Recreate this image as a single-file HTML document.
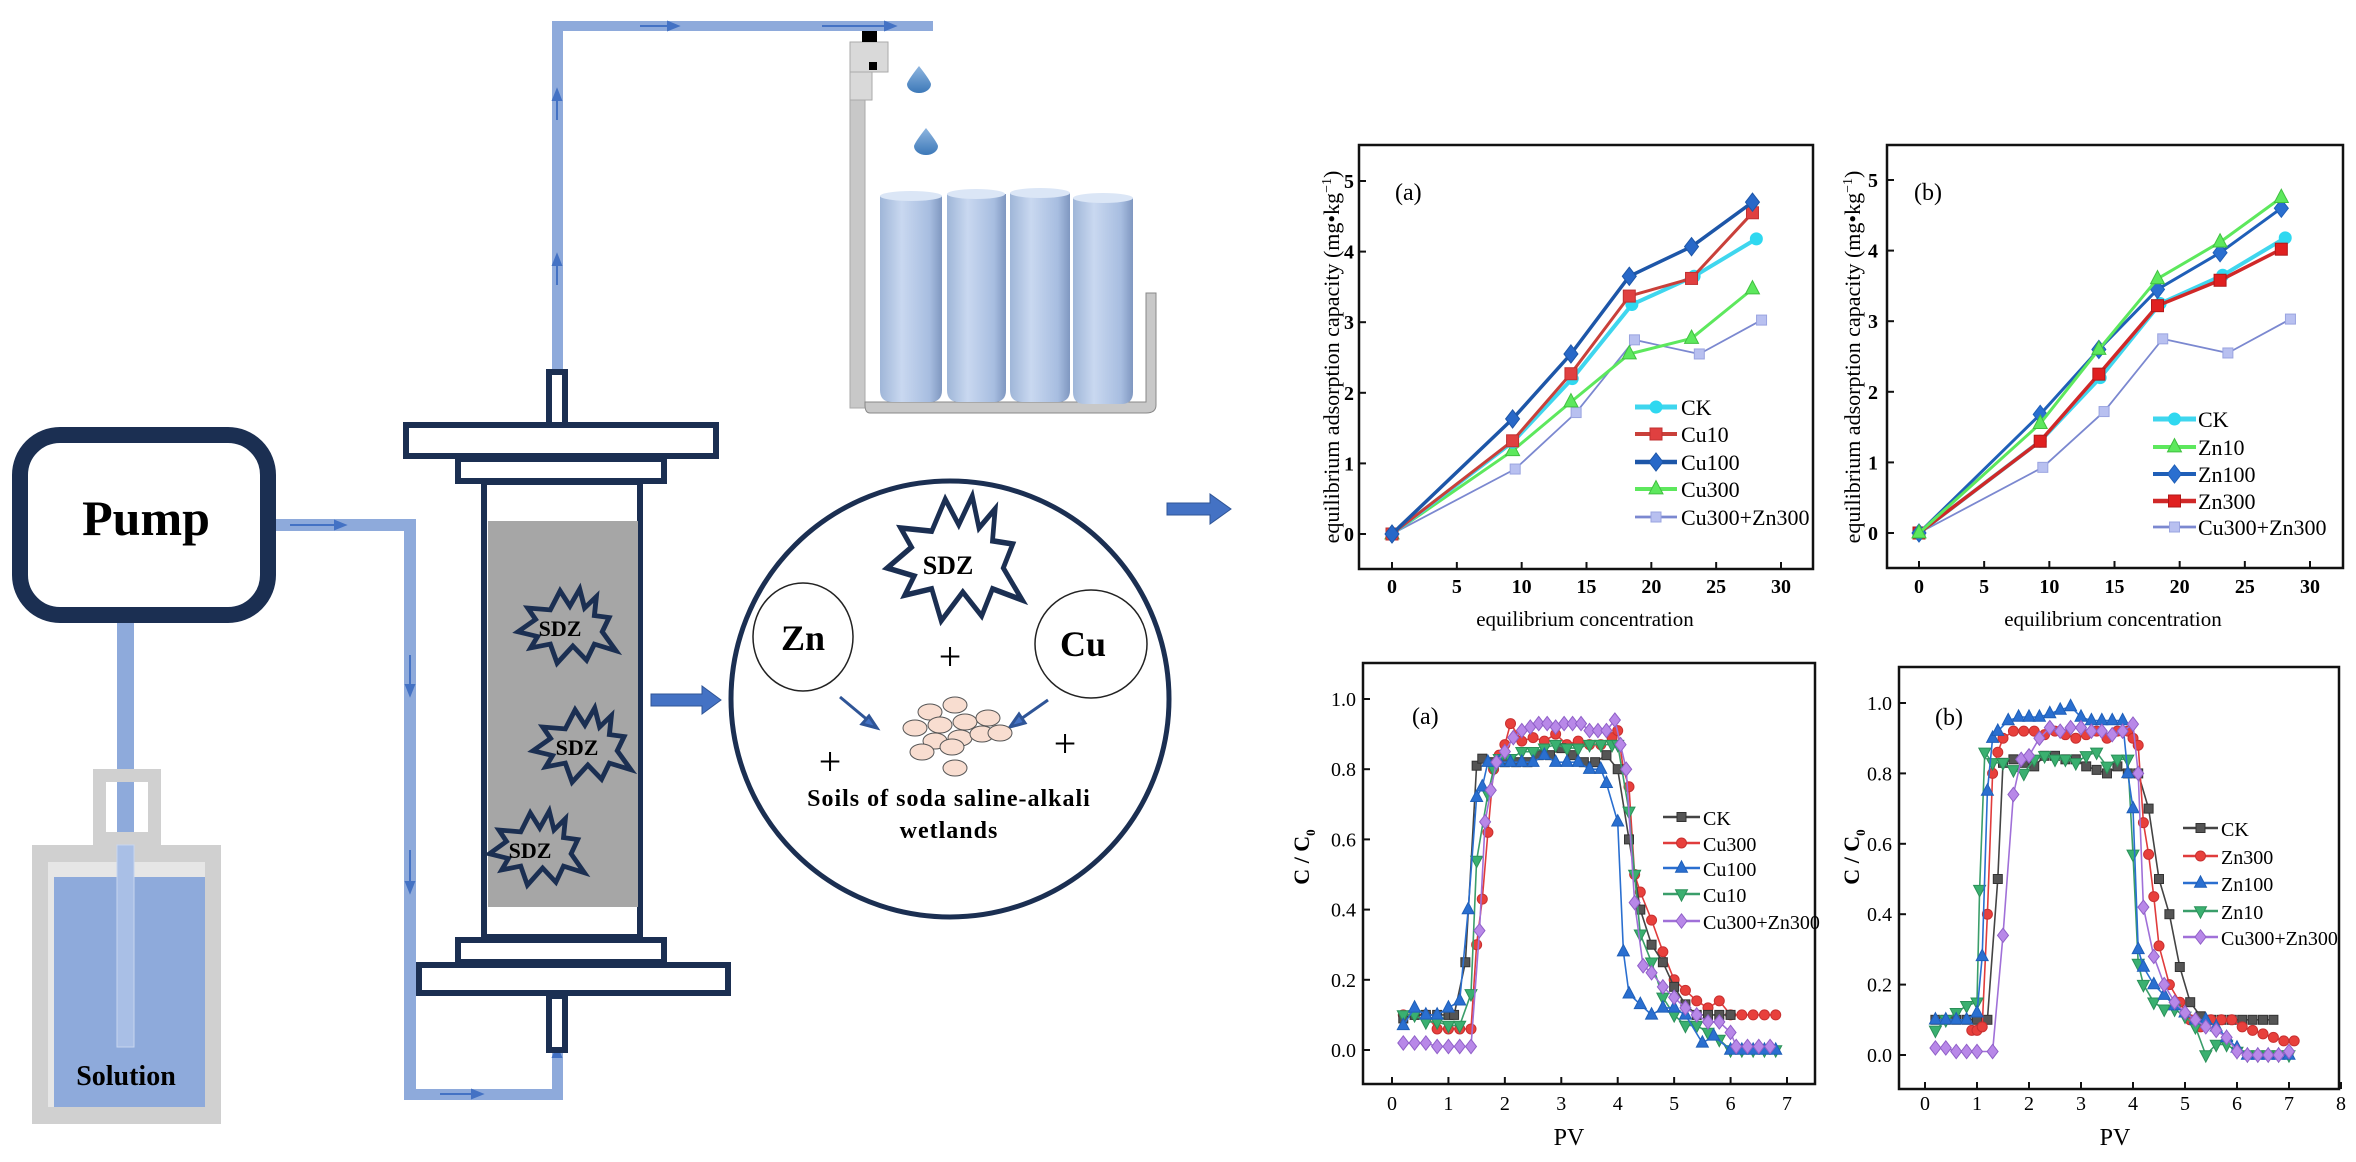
<!DOCTYPE html>
<html><head><meta charset="utf-8"><title>Column experiment and adsorption charts</title>
<style>
html,body{margin:0;padding:0;background:#fff;}
svg{display:block;}
text{font-family:"Liberation Serif",serif;}
</style></head>
<body>
<svg id="fig" width="2356" height="1162" viewBox="0 0 2356 1162" xmlns="http://www.w3.org/2000/svg">
<defs>
  <linearGradient id="cyl" x1="0" x2="1" y1="0" y2="0">
    <stop offset="0" stop-color="#9fb6d8"/><stop offset="0.35" stop-color="#c9d8f0"/><stop offset="0.8" stop-color="#a7bde0"/><stop offset="1" stop-color="#7f97c0"/>
  </linearGradient>
  <linearGradient id="drop" x1="0" x2="0" y1="0" y2="1">
    <stop offset="0" stop-color="#8fb6e0"/><stop offset="1" stop-color="#3c78b8"/>
  </linearGradient>
  <path id="star" d="M-48,5 L-30,-8 L-38,-20 L-15,-18 L-5,-38 L5,-22 L15,-40 L20,-20 L32,-32 L30,-12 L45,-10 L38,5 L52,25 L30,18 L22,35 L8,20 L-8,38 L-15,18 L-35,22 L-28,10 Z"/>
</defs>

<g>
  <g fill="#8eaadb">
    <rect x="117" y="617" width="17" height="430"/>
    <rect x="269" y="519" width="146" height="12"/>
    <rect x="404" y="519" width="12" height="581"/>
    <rect x="404" y="1089" width="159" height="11"/>
    <rect x="552" y="1048" width="11" height="52"/>
    <rect x="552" y="22" width="11" height="350"/>
    <rect x="552" y="21" width="381" height="10"/>
  </g>
  <g fill="#4472c4" stroke="#4472c4" stroke-width="2">
    <path d="M345,525 L335,521 L335,529 Z"/><line x1="290" y1="525" x2="340" y2="525"/>
    <path d="M410,695 L406,685 L414,685 Z"/><line x1="410" y1="655" x2="410" y2="690"/>
    <path d="M410,892 L406,882 L414,882 Z"/><line x1="410" y1="850" x2="410" y2="887"/>
    <path d="M482,1094 L472,1090 L472,1098 Z"/><line x1="440" y1="1094" x2="478" y2="1094"/>
    <path d="M557,90 L553,100 L561,100 Z"/><line x1="557" y1="95" x2="557" y2="120"/>
    <path d="M557,255 L553,265 L561,265 Z"/><line x1="557" y1="260" x2="557" y2="285"/>
    <path d="M678,26 L668,22 L668,30 Z"/><line x1="640" y1="26" x2="672" y2="26"/>
    <path d="M895,26 L885,22 L885,30 Z"/><line x1="822" y1="26" x2="890" y2="26"/>
    <path d="M126,876 L122,886 L130,886 Z"/><line x1="124" y1="880" x2="122" y2="935"/>
    <path d="M557,1047 L553,1057 L561,1057 Z"/>
  </g>
  <rect x="20" y="435" width="248" height="180" rx="40" fill="#fff" stroke="#1b2f52" stroke-width="16"/>
  <text x="146" y="535" text-anchor="middle" font-size="50" font-weight="bold" fill="#000">Pump</text>
  <g>
    <path d="M93,769 L161,769 L161,845 L93,845 Z M106,782 L106,832 L148,832 L148,782 Z" fill="#d0d0d0" fill-rule="evenodd"/>
    <rect x="32" y="845" width="189" height="279" fill="#d0d0d0"/>
    <rect x="48" y="862" width="157" height="245" fill="#e6e6e6"/>
    <rect x="54" y="877" width="151" height="230" fill="#8eaadb"/>
    <rect x="117" y="845" width="17" height="202" fill="#a9bfe6" stroke="#c8d6ef" stroke-width="1"/>
    <text x="126" y="1085" text-anchor="middle" font-size="28" font-weight="bold" fill="#000">Solution</text>
  </g>
  <g stroke="#1b2f52" stroke-width="6">
    <rect x="549" y="372" width="16" height="54" fill="#fff"/>
    <rect x="406" y="425" width="310" height="31" fill="#fff"/>
    <rect x="458" y="459" width="206" height="22" fill="#fff"/>
    <rect x="484" y="482" width="156" height="455" fill="#fff"/>
    <rect x="488" y="521" width="150" height="386" fill="#a6a6a6" stroke="none"/>
    <rect x="458" y="940" width="206" height="22" fill="#fff"/>
    <rect x="419" y="965" width="309" height="28" fill="#fff"/>
    <rect x="549" y="996" width="16" height="54" fill="#fff"/>
  </g>
  <g>
    <use href="#star" transform="translate(565,627) scale(0.98,0.95)" fill="none" stroke="#1b2f52" stroke-width="5"/>
    <text x="560" y="636" text-anchor="middle" font-size="22" font-weight="bold">SDZ</text>
    <use href="#star" transform="translate(580,746) scale(0.98,0.95)" fill="none" stroke="#1b2f52" stroke-width="5"/>
    <text x="577" y="755" text-anchor="middle" font-size="22" font-weight="bold">SDZ</text>
    <use href="#star" transform="translate(535,849) scale(0.95,0.95)" fill="none" stroke="#1b2f52" stroke-width="5"/>
    <text x="530" y="858" text-anchor="middle" font-size="22" font-weight="bold">SDZ</text>
  </g>
  <g>
    <rect x="850" y="42" width="15" height="366" fill="#c8c8c8" stroke="#aaa" stroke-width="1"/>
    <rect x="850" y="42" width="38" height="30" fill="#d9d9d9" stroke="#aaa" stroke-width="1"/>
    <rect x="850" y="72" width="22" height="28" fill="#d9d9d9" stroke="#aaa" stroke-width="1"/>
    <rect x="862" y="31" width="15" height="11" fill="#000"/>
    <rect x="869" y="62" width="8" height="8" fill="#000"/>
    <path d="M919,66 Q930,80 931,84 A12,9 0 0 1 907,84 Q908,80 919,66 Z" fill="url(#drop)"/>
    <path d="M926,128 Q937,142 938,146 A12,9 0 0 1 914,146 Q915,142 926,128 Z" fill="url(#drop)"/>
    <path d="M865,402 L1146,402 L1146,293 L1156,293 L1156,405 Q1156,413 1146,413 L870,413 Q865,413 865,405 Z" fill="#c8c8c8" stroke="#888" stroke-width="1"/>
    <g>
      <path d="M880,196 L942,196 L942,390 Q942,402 930,402 L892,402 Q880,402 880,390 Z" fill="url(#cyl)"/>
      <ellipse cx="911" cy="196" rx="31" ry="5" fill="#dbe6f6"/>
      <path d="M947,194 L1006,194 L1006,390 Q1006,402 994,402 L959,402 Q947,402 947,390 Z" fill="url(#cyl)"/>
      <ellipse cx="976" cy="194" rx="29" ry="5" fill="#dbe6f6"/>
      <path d="M1010,193 L1070,193 L1070,390 Q1070,402 1058,402 L1022,402 Q1010,402 1010,390 Z" fill="url(#cyl)"/>
      <ellipse cx="1040" cy="193" rx="30" ry="5" fill="#dbe6f6"/>
      <path d="M1073,198 L1133,198 L1133,392 Q1133,404 1121,404 L1085,404 Q1073,404 1073,392 Z" fill="url(#cyl)"/>
      <ellipse cx="1103" cy="198" rx="30" ry="5" fill="#dbe6f6"/>
    </g>
  </g>
  <path d="M651,694 L702,694 L702,686 L721,700 L702,714 L702,706 L651,706 Z" fill="#4472c4" stroke="#2f5597" stroke-width="1"/>
  <path d="M1167,503 L1210,503 L1210,494 L1231,509 L1210,524 L1210,515 L1167,515 Z" fill="#4472c4" stroke="#2f5597" stroke-width="1"/>
  <g>
    <ellipse cx="950" cy="699" rx="219" ry="218" fill="#fff" stroke="#1b2f52" stroke-width="5"/>
    <use href="#star" transform="translate(952,560) scale(1.35,1.6)" fill="#fff" stroke="#1b2f52" stroke-width="3.5"/>
    <text x="948" y="574" text-anchor="middle" font-size="26" font-weight="bold">SDZ</text>
    <ellipse cx="803" cy="637" rx="50" ry="54" fill="#fff" stroke="#222" stroke-width="1.5"/>
    <text x="803" y="650" text-anchor="middle" font-size="36" font-weight="bold">Zn</text>
    <ellipse cx="1091" cy="644" rx="56" ry="54" fill="#fff" stroke="#222" stroke-width="1.5"/>
    <text x="1083" y="656" text-anchor="middle" font-size="36" font-weight="bold">Cu</text>
    <g font-size="40" text-anchor="middle" font-family="Liberation Sans, sans-serif">
      <text x="950" y="670">+</text><text x="830" y="775">+</text><text x="1065" y="757">+</text>
    </g>
    <g stroke="#2f5597" stroke-width="3" fill="#4472c4">
      <line x1="840" y1="697" x2="870" y2="722"/><path d="M877,728 L862,724 L869,716 Z"/>
      <line x1="1048" y1="700" x2="1018" y2="721"/><path d="M1010,727 L1019,714 L1025,723 Z"/>
    </g>
    <g fill="#f8ddd0" stroke="#555" stroke-width="1">
      <ellipse cx="930" cy="712" rx="12" ry="8"/><ellipse cx="955" cy="705" rx="12" ry="8"/>
      <ellipse cx="915" cy="728" rx="12" ry="8"/><ellipse cx="940" cy="725" rx="12" ry="8"/>
      <ellipse cx="965" cy="722" rx="12" ry="8"/><ellipse cx="988" cy="718" rx="12" ry="8"/>
      <ellipse cx="935" cy="741" rx="12" ry="8"/><ellipse cx="960" cy="738" rx="12" ry="8"/>
      <ellipse cx="982" cy="734" rx="12" ry="8"/><ellipse cx="1000" cy="733" rx="12" ry="8"/>
      <ellipse cx="922" cy="752" rx="12" ry="8"/><ellipse cx="952" cy="747" rx="12" ry="8"/>
      <ellipse cx="955" cy="768" rx="12" ry="8"/>
    </g>
    <text x="949" y="806" text-anchor="middle" font-size="24" font-weight="bold" letter-spacing="1">Soils of soda saline-alkali</text>
    <text x="949" y="838" text-anchor="middle" font-size="24" font-weight="bold" letter-spacing="1">wetlands</text>
  </g>
</g>

<g id="charts"></g>
</svg>

<script>
const topA_series = ['CK','Cu10','Cu100','Cu300','Cu300+Zn300'];
const topA_xMain = [0, 9.3, 13.8, 18.3, 23.1, 27.8];
const topA_xCK = [0, 9.3, 13.9, 18.5, 23.3, 28.1];
const topA_xMix = [0, 9.5, 14.2, 18.7, 23.7, 28.5];
const topA_CK = [0, 1.30, 2.20, 3.25, 3.65, 4.18];
const topA_Cu10 = [0, 1.32, 2.27, 3.37, 3.62, 4.55];
const topA_Cu100 = [0, 1.63, 2.55, 3.65, 4.07, 4.70];
const topA_Cu300 = [0, 1.18, 1.87, 2.55, 2.77, 3.47];
const topA_Mix = [0, 0.92, 1.72, 2.75, 2.55, 3.03];
const topB_series = ['CK','Zn10','Zn100','Zn300','Cu300+Zn300'];
const topB_CK = [0, 1.30, 2.20, 3.25, 3.65, 4.18];
const topB_Zn10 = [0, 1.55, 2.60, 3.60, 4.12, 4.75];
const topB_Zn100 = [0, 1.68, 2.60, 3.45, 3.97, 4.60];
const topB_Zn300 = [0, 1.30, 2.25, 3.22, 3.58, 4.02];
const topB_Mix = [0, 0.93, 1.72, 2.75, 2.55, 3.03];
const topXTicks = [0, 5, 10, 15, 20, 25, 30];
const topYTicks = [0, 1, 2, 3, 4, 5];

const botA_series = ['CK','Cu300','Cu100','Cu10','Cu300+Zn300'];
const botA_CK_pv = [0.2,0.4,0.6,0.8,1.0,1.1,1.3,1.5,1.6,1.8,2.0,2.2,2.4,2.6,2.8,3.0,3.2,3.4,3.6,3.8,4.0,4.2,4.4,4.6,4.8,5.0,5.2,5.4,5.6,5.8,6.0];
const botA_CK_c = [0.09,0.10,0.10,0.10,0.10,0.10,0.25,0.81,0.83,0.82,0.82,0.82,0.82,0.84,0.84,0.86,0.84,0.82,0.82,0.84,0.80,0.60,0.40,0.30,0.25,0.18,0.13,0.10,0.10,0.10,0.10];
const botA_Cu300_pv = [0.2,0.4,0.6,0.8,1.0,1.2,1.4,1.5,1.6,1.7,1.8,1.9,2.0,2.1,2.3,2.5,2.7,2.9,3.1,3.3,3.5,3.7,3.9,4.0,4.1,4.2,4.3,4.4,4.6,4.8,5.0,5.2,5.4,5.6,5.8,6.0,6.2,6.4,6.6,6.8];
const botA_Cu300_c = [0.10,0.10,0.10,0.06,0.06,0.06,0.06,0.30,0.43,0.62,0.80,0.84,0.87,0.93,0.88,0.89,0.88,0.90,0.87,0.88,0.87,0.87,0.89,0.91,0.80,0.75,0.50,0.45,0.37,0.28,0.20,0.17,0.14,0.12,0.14,0.10,0.10,0.10,0.10,0.10];
const botA_Cu100_pv = [0.2,0.4,0.6,0.8,1.0,1.2,1.35,1.5,1.6,1.7,1.9,2.1,2.3,2.5,2.7,2.9,3.1,3.3,3.5,3.7,3.8,4.0,4.1,4.2,4.4,4.6,4.8,5.0,5.2,5.5,5.7,6.0,6.2,6.4,6.6,6.8];
const botA_Cu100_c = [0.07,0.12,0.10,0.10,0.12,0.14,0.40,0.72,0.75,0.82,0.82,0.82,0.82,0.82,0.84,0.82,0.82,0.82,0.80,0.80,0.76,0.65,0.28,0.16,0.13,0.10,0.12,0.12,0.10,0.02,0.04,0.00,0.00,0.00,0.00,0.00];
const botA_Cu10_pv = [0.2,0.4,0.6,0.8,1.0,1.2,1.4,1.5,1.7,1.8,1.9,2.1,2.3,2.5,2.7,2.9,3.1,3.3,3.5,3.7,3.9,4.0,4.2,4.3,4.4,4.6,4.8,5.0,5.2,5.4,5.6,5.8,6.0,6.2,6.4,6.6,6.8];
const botA_Cu10_c = [0.10,0.10,0.08,0.08,0.07,0.07,0.16,0.54,0.73,0.80,0.83,0.83,0.85,0.85,0.86,0.87,0.86,0.86,0.87,0.87,0.87,0.87,0.68,0.50,0.33,0.25,0.15,0.10,0.07,0.07,0.05,0.03,0.00,0.00,0.00,0.00,0.00];
const botA_Mix_pv = [0.2,0.4,0.6,0.8,1.0,1.2,1.4,1.55,1.65,1.75,1.85,2.0,2.15,2.3,2.45,2.6,2.75,2.9,3.05,3.2,3.35,3.5,3.65,3.8,3.95,4.05,4.15,4.3,4.45,4.6,4.8,5.0,5.2,5.4,5.6,5.8,6.0,6.1,6.3,6.5,6.7];
const botA_Mix_c = [0.02,0.02,0.02,0.01,0.01,0.01,0.01,0.34,0.65,0.74,0.82,0.85,0.89,0.91,0.92,0.93,0.93,0.92,0.93,0.93,0.93,0.91,0.91,0.91,0.94,0.87,0.80,0.42,0.24,0.22,0.18,0.15,0.12,0.10,0.08,0.08,0.05,0.01,0.01,0.01,0.01];

const botB_series = ['CK','Zn300','Zn100','Zn10','Cu300+Zn300'];
const botB_CK_pv = [0.2,0.4,0.6,0.8,1.0,1.2,1.4,1.5,1.7,1.9,2.1,2.3,2.5,2.7,2.9,3.1,3.3,3.5,3.7,3.9,4.1,4.3,4.5,4.7,4.9,5.1,5.3,5.5,5.7,5.9,6.1,6.3,6.5,6.7];
const botB_CK_c = [0.10,0.10,0.10,0.10,0.10,0.10,0.50,0.83,0.84,0.83,0.82,0.85,0.85,0.84,0.84,0.82,0.81,0.80,0.82,0.80,0.80,0.70,0.50,0.40,0.25,0.15,0.11,0.10,0.10,0.10,0.10,0.10,0.10,0.10];
const botB_Zn300_pv = [0.9,1.0,1.1,1.2,1.3,1.4,1.5,1.7,1.9,2.1,2.3,2.5,2.7,2.9,3.1,3.3,3.5,3.7,3.9,4.0,4.1,4.2,4.3,4.4,4.5,4.7,4.9,5.1,5.3,5.5,5.7,5.9,6.1,6.3,6.5,6.7,6.9,7.1];
const botB_Zn300_c = [0.07,0.07,0.08,0.40,0.80,0.86,0.90,0.92,0.92,0.92,0.91,0.92,0.91,0.90,0.91,0.92,0.90,0.92,0.92,0.90,0.88,0.66,0.57,0.45,0.31,0.20,0.15,0.10,0.08,0.10,0.10,0.10,0.08,0.07,0.06,0.05,0.04,0.04];
const botB_Zn100_pv = [0.2,0.4,0.6,0.8,1.0,1.1,1.2,1.3,1.4,1.6,1.8,2.0,2.2,2.4,2.6,2.8,3.0,3.2,3.4,3.6,3.8,3.9,4.0,4.1,4.2,4.4,4.6,4.8,5.0,5.2,5.4,5.6,5.8,6.0,6.2,6.4,6.6,6.8,7.0];
const botB_Zn100_c = [0.10,0.10,0.10,0.10,0.12,0.28,0.75,0.90,0.92,0.95,0.96,0.96,0.96,0.97,0.98,0.99,0.96,0.95,0.95,0.95,0.95,0.80,0.70,0.30,0.25,0.20,0.17,0.14,0.12,0.10,0.10,0.08,0.05,0.02,0.00,0.00,0.00,0.00,0.00];
const botB_Zn10_pv = [0.2,0.4,0.6,0.8,1.0,1.05,1.15,1.3,1.5,1.7,1.9,2.1,2.3,2.5,2.7,2.9,3.1,3.3,3.5,3.7,3.9,4.0,4.1,4.2,4.4,4.6,4.8,5.0,5.2,5.4,5.6,5.8,6.0,6.2,6.4,6.6,6.8,7.0];
const botB_Zn10_c = [0.07,0.10,0.12,0.14,0.15,0.47,0.86,0.83,0.83,0.81,0.80,0.84,0.85,0.84,0.84,0.83,0.85,0.86,0.82,0.84,0.84,0.57,0.26,0.20,0.15,0.13,0.13,0.11,0.08,0.00,0.03,0.03,0.01,0.00,0.00,0.00,0.00,0.00];
const botB_Mix_pv = [0.2,0.4,0.6,0.8,1.0,1.3,1.5,1.7,1.85,2.0,2.2,2.4,2.6,2.8,3.0,3.2,3.4,3.6,3.8,4.0,4.1,4.2,4.4,4.6,4.8,5.0,5.2,5.4,5.6,5.8,6.0,6.2,6.4,6.6,6.8,7.0];
const botB_Mix_c = [0.02,0.02,0.01,0.01,0.01,0.01,0.34,0.74,0.84,0.85,0.90,0.93,0.92,0.93,0.93,0.92,0.92,0.91,0.92,0.94,0.80,0.42,0.28,0.20,0.15,0.12,0.10,0.08,0.07,0.05,0.01,0.00,0.00,0.00,0.00,0.01];
const botAXTicks = [0,1,2,3,4,5,6,7];
const botBXTicks = [0,1,2,3,4,5,6,7,8];
const botYTicks = [0.0,0.2,0.4,0.6,0.8,1.0];

const NS = 'http://www.w3.org/2000/svg';
const root = document.getElementById('charts');
function mk(tag, attrs, parent){
  const e = document.createElementNS(NS, tag);
  for (const k in attrs) e.setAttribute(k, attrs[k]);
  (parent || root).appendChild(e);
  return e;
}
function linScale(d0, d1, r0, r1){ return v => r0 + (v - d0) * (r1 - r0) / (d1 - d0); }

function marker(parent, type, x, y, s, fill, stroke){
  let el;
  if (type === 'circle') el = mk('circle', {cx:x, cy:y, r:s, fill:fill, stroke:stroke, 'stroke-width':1}, parent);
  else if (type === 'square') el = mk('rect', {x:x-s, y:y-s, width:2*s, height:2*s, fill:fill, stroke:stroke, 'stroke-width':1}, parent);
  else if (type === 'diamond') el = mk('path', {d:`M${x},${y-s*1.3} L${x+s},${y} L${x},${y+s*1.3} L${x-s},${y} Z`, fill:fill, stroke:stroke, 'stroke-width':1}, parent);
  else if (type === 'tri') el = mk('path', {d:`M${x},${y-s*1.2} L${x+s},${y+s*0.7} L${x-s},${y+s*0.7} Z`, fill:fill, stroke:stroke, 'stroke-width':1}, parent);
  else el = mk('path', {d:`M${x},${y+s*1.2} L${x+s},${y-s*0.7} L${x-s},${y-s*0.7} Z`, fill:fill, stroke:stroke, 'stroke-width':1}, parent);
  
  
  return el;
}

function drawSeries(parent, xs, ys, sx, sy, st, name){
  const g = mk('g', {}, parent);
  
  
  const pts = xs.map((v, i) => sx(v).toFixed(1) + ',' + sy(ys[i]).toFixed(1)).join(' ');
  const pl = mk('polyline', {points:pts, fill:'none', stroke:st.line, 'stroke-width':st.lw, 'stroke-linejoin':'round'}, g);
  
  
  xs.forEach((v, i) => marker(g, st.m, sx(v), sy(ys[i]), st.ms, st.fill, st.stroke));
}

function frame(cfg){
  const g = mk('g', {});
  
  
  const b = mk('rect', {x:cfg.l, y:cfg.t, width:cfg.r-cfg.l, height:cfg.b-cfg.t, fill:'none', stroke:'#111', 'stroke-width':2.5}, g);
  
  
  cfg.xticks.forEach(t => {
    const x = cfg.sx(t);
    mk('line', {x1:x, y1:cfg.b, x2:x, y2:cfg.b-7, stroke:'#111', 'stroke-width':2}, g);
    const tx = mk('text', {x:x, y:cfg.xtY, 'text-anchor':'middle', 'font-size':cfg.tfs, 'font-weight':cfg.tfw}, g);
    tx.textContent = t;
    
    
  });
  cfg.yticks.forEach(t => {
    const y = cfg.sy(t);
    mk('line', {x1:cfg.l, y1:y, x2:cfg.l+7, y2:y, stroke:'#111', 'stroke-width':2}, g);
    const tx = mk('text', {x:cfg.ytX, y:y+7, 'text-anchor':'end', 'font-size':cfg.tfs, 'font-weight':cfg.tfw}, g);
    tx.textContent = cfg.yfmt ? cfg.yfmt(t) : t;
    
    
  });
  const xt = mk('text', {x:cfg.xtitleX, y:cfg.xtitleY, 'text-anchor':'middle', 'font-size':cfg.xtfs}, g);
  xt.textContent = cfg.xtitle;
  
  
  const yt = mk('text', {x:0, y:0, 'text-anchor':'middle', 'font-size':cfg.ytfs, 'font-weight':cfg.ytfw, transform:`translate(${cfg.ytitleX},${cfg.ytitleY}) rotate(-90)`}, g);
  yt.innerHTML = cfg.ytitle;
  
  
  const pl = mk('text', {x:cfg.panelX, y:cfg.panelY, 'font-size':24}, g);
  pl.textContent = cfg.panel;
  
  
  return g;
}

function legend(parent, names, styles, x0, x1, tx, ys, fs){
  const g = mk('g', {}, parent);
  
  
  names.forEach((n, i) => {
    const e = mk('g', {}, g);
    
    
    mk('line', {x1:x0, y1:ys[i], x2:x1, y2:ys[i], stroke:styles[i].line, 'stroke-width':styles[i].lw + 1}, e);
    marker(e, styles[i].m, (x0+x1)/2, ys[i], styles[i].ms, styles[i].fill, styles[i].stroke);
    const t = mk('text', {x:tx, y:ys[i]+8, 'font-size':fs}, e);
    t.textContent = n;
  });
}

const sCK = {line:'#3fd6ee', lw:4, m:'circle', ms:6, fill:'#2fd8f0', stroke:'#2fd8f0'};
const sRed = {line:'#c9403a', lw:3, m:'square', ms:6, fill:'#e04040', stroke:'#c03030'};
const sBlue = {line:'#1d56a8', lw:3.5, m:'diamond', ms:7, fill:'#2868c8', stroke:'#1d56a8'};
const sGreen = {line:'#5de85d', lw:3, m:'tri', ms:7, fill:'#5de85d', stroke:'#40c040'};
const sMix = {line:'#7b88d0', lw:1.8, m:'square', ms:5, fill:'#b8c0f0', stroke:'#9aa4e0'};
const sRed2 = {line:'#d02828', lw:3.5, m:'square', ms:6, fill:'#e02020', stroke:'#b01818'};
const sBlue2 = {line:'#1f5fb8', lw:3, m:'diamond', ms:7, fill:'#2a6fd0', stroke:'#1f5fb8'};

(function(){
  const sx = linScale(0, 30, 1392, 1781), sy = linScale(0, 5, 534, 181);
  const g = frame({name:'chart-adsorption-a', l:1359, r:1813, t:145, b:569, sx, sy, xticks:topXTicks, yticks:topYTicks,
    xtY:593, ytX:1354, tfs:20, tfw:'bold', xtitle:'equilibrium concentration', xtitleX:1585, xtitleY:626, xtfs:21,
    ytitle:'equilibrium adsorption capacity (mg•kg<tspan dy="-8" font-size="14">−1</tspan><tspan dy="8">)</tspan>', ytitleX:1339, ytitleY:357, ytfs:22, ytfw:'normal',
    panel:'(a)', panelX:1395, panelY:200});
  drawSeries(g, topA_xMix, topA_Mix, sx, sy, sMix, 'cu300-zn300');
  drawSeries(g, topA_xMain, topA_Cu300, sx, sy, sGreen, 'cu300');
  drawSeries(g, topA_xCK, topA_CK, sx, sy, sCK, 'ck');
  drawSeries(g, topA_xMain, topA_Cu10, sx, sy, sRed, 'cu10');
  drawSeries(g, topA_xMain, topA_Cu100, sx, sy, sBlue, 'cu100');
  legend(g, topA_series, [sCK, sRed, sBlue, sGreen, sMix], 1635, 1677, 1681, [407,434,462,489,517], 22);
})();

(function(){
  const sx = linScale(0, 30, 1919, 2310), sy = linScale(0, 5, 533, 180);
  const g = frame({name:'chart-adsorption-b', l:1887, r:2343, t:145, b:568, sx, sy, xticks:topXTicks, yticks:topYTicks,
    xtY:593, ytX:1878, tfs:20, tfw:'bold', xtitle:'equilibrium concentration', xtitleX:2113, xtitleY:626, xtfs:21,
    ytitle:'equilibrium adsorption capacity (mg•kg<tspan dy="-8" font-size="14">−1</tspan><tspan dy="8">)</tspan>', ytitleX:1860, ytitleY:357, ytfs:22, ytfw:'normal',
    panel:'(b)', panelX:1914, panelY:200});
  drawSeries(g, topA_xMix, topB_Mix, sx, sy, sMix, 'cu300-zn300');
  drawSeries(g, topA_xCK, topB_CK, sx, sy, sCK, 'ck');
  drawSeries(g, topA_xMain, topB_Zn300, sx, sy, sRed2, 'zn300');
  drawSeries(g, topA_xMain, topB_Zn100, sx, sy, sBlue2, 'zn100');
  drawSeries(g, topA_xMain, topB_Zn10, sx, sy, sGreen, 'zn10');
  legend(g, topB_series, [sCK, sGreen, sBlue2, sRed2, sMix], 2153, 2196, 2198, [419,447,474,501,527], 22);
})();

const bCK = {line:'#444', lw:1.6, m:'square', ms:4.5, fill:'#555', stroke:'#333'};
const bRed = {line:'#e03c3c', lw:1.6, m:'circle', ms:5, fill:'#e8403c', stroke:'#c83030'};
const bBlue = {line:'#2a6fd0', lw:1.6, m:'tri', ms:6, fill:'#2a6fd0', stroke:'#1f5fb8'};
const bGreen = {line:'#3a9e6a', lw:1.6, m:'dtri', ms:6, fill:'#3ab070', stroke:'#2a9058'};
const bPurp = {line:'#a070d8', lw:1.6, m:'diamond', ms:5.5, fill:'#b888e8', stroke:'#9060c8'};
const fmt1 = v => v.toFixed(1);

(function(){
  const sx = linScale(0, 7, 1392, 1787), sy = linScale(0, 1, 1050, 699);
  const g = frame({name:'chart-breakthrough-a', l:1363, r:1815, t:663, b:1084, sx, sy, xticks:botAXTicks, yticks:botYTicks, yfmt:fmt1,
    xtY:1110, ytX:1356, tfs:20, tfw:'normal', xtitle:'PV', xtitleX:1569, xtitleY:1145, xtfs:24,
    ytitle:'C / C<tspan dy="6" font-size="13">0</tspan>', ytitleX:1309, ytitleY:857, ytfs:22, ytfw:'bold',
    panel:'(a)', panelX:1412, panelY:724});
  drawSeries(g, botA_Cu300_pv, botA_Cu300_c, sx, sy, bRed, 'cu300');
  drawSeries(g, botA_CK_pv, botA_CK_c, sx, sy, bCK, 'ck');
  drawSeries(g, botA_Cu10_pv, botA_Cu10_c, sx, sy, bGreen, 'cu10');
  drawSeries(g, botA_Cu100_pv, botA_Cu100_c, sx, sy, bBlue, 'cu100');
  drawSeries(g, botA_Mix_pv, botA_Mix_c, sx, sy, bPurp, 'cu300-zn300');
  legend(g, botA_series, [bCK, bRed, bBlue, bGreen, bPurp], 1663, 1700, 1703, [817,843,868,894,921], 20);
})();

(function(){
  const sx = linScale(0, 7, 1925, 2289), sy = linScale(0, 1, 1055, 703);
  const g = frame({name:'chart-breakthrough-b', l:1899, r:2339, t:667, b:1089, sx, sy, xticks:botBXTicks, yticks:botYTicks, yfmt:fmt1,
    xtY:1110, ytX:1892, tfs:20, tfw:'normal', xtitle:'PV', xtitleX:2115, xtitleY:1145, xtfs:24,
    ytitle:'C / C<tspan dy="6" font-size="13">0</tspan>', ytitleX:1859, ytitleY:857, ytfs:22, ytfw:'bold',
    panel:'(b)', panelX:1935, panelY:725});
  drawSeries(g, botB_CK_pv, botB_CK_c, sx, sy, bCK, 'ck');
  drawSeries(g, botB_Zn300_pv, botB_Zn300_c, sx, sy, bRed, 'zn300');
  drawSeries(g, botB_Zn10_pv, botB_Zn10_c, sx, sy, bGreen, 'zn10');
  drawSeries(g, botB_Zn100_pv, botB_Zn100_c, sx, sy, bBlue, 'zn100');
  drawSeries(g, botB_Mix_pv, botB_Mix_c, sx, sy, bPurp, 'cu300-zn300');
  legend(g, botB_series, [bCK, bRed, bBlue, bGreen, bPurp], 2183, 2218, 2221, [828,856,883,911,937], 20);
})();
</script>
</body></html>
